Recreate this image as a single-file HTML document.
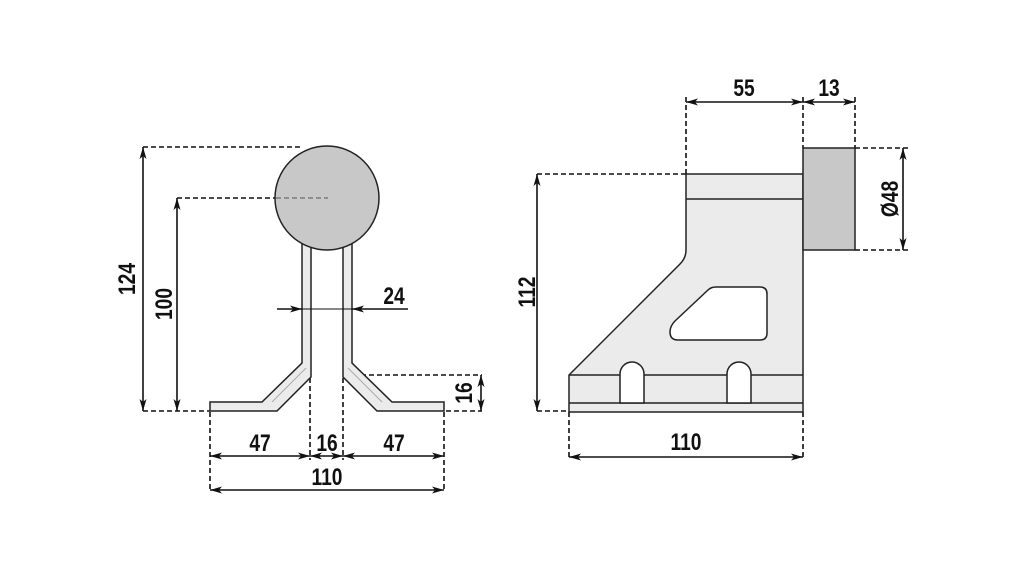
<!DOCTYPE html>
<html><head><style>
html,body{margin:0;padding:0;background:#fff;}
svg text{font-family:"Liberation Sans",sans-serif;font-weight:bold;font-size:24px;fill:#111;}
</style></head><body>
<svg width="1021" height="567" viewBox="0 0 1021 567" xmlns="http://www.w3.org/2000/svg">
<defs>
<marker id="a" viewBox="0 0 12 8" refX="12" refY="4" markerWidth="12" markerHeight="8" orient="auto-start-reverse" markerUnits="userSpaceOnUse"><path d="M0,0.5 L12,4 L0,7.5 L3,4 Z" fill="#111"/></marker>
</defs>
<g stroke="#111" stroke-width="1.6" fill="none" stroke-dasharray="5,3">
<line x1="143" y1="147" x2="303" y2="147"/>
<line x1="177" y1="198" x2="276" y2="198"/>
<line x1="143" y1="411" x2="210" y2="411"/>
<line x1="210" y1="412" x2="210" y2="492"/>
<line x1="444" y1="412" x2="444" y2="492"/>
<line x1="310" y1="378" x2="310" y2="460"/>
<line x1="343" y1="378" x2="343" y2="460"/>
<line x1="345" y1="375" x2="482" y2="375"/>
<line x1="446" y1="411" x2="482" y2="411"/>
<line x1="686" y1="97" x2="686" y2="174"/>
<line x1="803" y1="97" x2="803" y2="148"/>
<line x1="855" y1="97" x2="855" y2="148"/>
<line x1="537" y1="174" x2="686" y2="174"/>
<line x1="537" y1="411" x2="569" y2="411"/>
<line x1="855" y1="148" x2="908" y2="148"/>
<line x1="855" y1="250" x2="908" y2="250"/>
<line x1="569" y1="412" x2="569" y2="460"/>
<line x1="803" y1="412" x2="803" y2="460"/>
</g>
<g stroke="#222" stroke-width="1.5" fill="#ebebeb">
<path d="M302,240 L302,363 L262,402 L210,402 L210,411 L277,411 L311,377 L311,240 Z"/>
<path d="M352,240 L352,363 L392,402 L444,402 L444,411 L377,411 L343,377 L343,240 Z"/>
<circle cx="327" cy="198" r="52" fill="#c8c8c8"/>
</g>
<g stroke="#aaa" stroke-width="1" fill="none">
<path d="M306,368 L272,402"/><path d="M348,368 L382,402"/>
</g>
<line x1="276" y1="198" x2="328" y2="198" stroke="#555" stroke-width="1" stroke-dasharray="5,3"/>
<g stroke="#111" stroke-width="1.6">
<line x1="143" y1="147" x2="143" y2="411" marker-start="url(#a)" marker-end="url(#a)"/>
<line x1="177" y1="198" x2="177" y2="411" marker-start="url(#a)" marker-end="url(#a)"/>
<line x1="277" y1="309" x2="302" y2="309" marker-end="url(#a)"/>
<line x1="302" y1="309" x2="352" y2="309" stroke-width="1"/>
<line x1="408" y1="309" x2="352" y2="309" marker-end="url(#a)"/>
<line x1="481" y1="375" x2="481" y2="411" marker-start="url(#a)" marker-end="url(#a)"/>
<line x1="210" y1="456" x2="310" y2="456" marker-start="url(#a)" marker-end="url(#a)"/>
<line x1="310" y1="456" x2="343" y2="456" marker-start="url(#a)" marker-end="url(#a)"/>
<line x1="343" y1="456" x2="444" y2="456" marker-start="url(#a)" marker-end="url(#a)"/>
<line x1="210" y1="490" x2="444" y2="490" marker-start="url(#a)" marker-end="url(#a)"/>
</g>
<text transform="translate(260,451) scale(0.8,1)" text-anchor="middle">47</text>
<text transform="translate(327,451) scale(0.8,1)" text-anchor="middle">16</text>
<text transform="translate(394,451) scale(0.8,1)" text-anchor="middle">47</text>
<text transform="translate(327,485) scale(0.8,1)" text-anchor="middle">110</text>
<text transform="translate(394,304) scale(0.8,1)" text-anchor="middle">24</text>
<text transform="translate(135,279) rotate(-90) scale(0.8,1)" text-anchor="middle">124</text>
<text transform="translate(172,304) rotate(-90) scale(0.8,1)" text-anchor="middle">100</text>
<text transform="translate(472,393) rotate(-90) scale(0.8,1)" text-anchor="middle">16</text>
<g stroke="#222" stroke-width="1.5">
<path d="M686,174 L803,174 L803,412 L569,412 L569,375 L680,264 Q686,258 686,250 Z" fill="#ebebeb"/>
<line x1="686" y1="199" x2="803" y2="199"/>
<line x1="569" y1="375" x2="803" y2="375"/>
<line x1="569" y1="403" x2="803" y2="403"/>
<rect x="803" y="148" width="52" height="102" fill="#c8c8c8"/>
<path d="M708,290 Q711,287 716,287 L760,287 Q767,287 767,294 L767,333 Q767,340 760,340 L678,340 Q670,340 670,332 Q670,326 675,321 Z" fill="#fff"/>
<path d="M620,403 L620,374 A12,12 0 0 1 644,374 L644,403 Z" fill="#fff"/>
<path d="M727,403 L727,374 A12,12 0 0 1 751,374 L751,403 Z" fill="#fff"/>
</g>
<g stroke="#111" stroke-width="1.6">
<line x1="686" y1="102" x2="803" y2="102" marker-start="url(#a)" marker-end="url(#a)"/>
<line x1="803" y1="102" x2="855" y2="102" marker-start="url(#a)" marker-end="url(#a)"/>
<line x1="537" y1="174" x2="537" y2="411" marker-start="url(#a)" marker-end="url(#a)"/>
<line x1="903" y1="148" x2="903" y2="250" marker-start="url(#a)" marker-end="url(#a)"/>
<line x1="569" y1="457" x2="803" y2="457" marker-start="url(#a)" marker-end="url(#a)"/>
</g>
<text transform="translate(744,96) scale(0.8,1)" text-anchor="middle">55</text>
<text transform="translate(829,96) scale(0.8,1)" text-anchor="middle">13</text>
<text transform="translate(686,450) scale(0.8,1)" text-anchor="middle">110</text>
<text transform="translate(535,292) rotate(-90) scale(0.8,1)" text-anchor="middle">112</text>
<text transform="translate(898,199) rotate(-90) scale(0.8,1)" text-anchor="middle">Ø48</text>
</svg>
</body></html>
